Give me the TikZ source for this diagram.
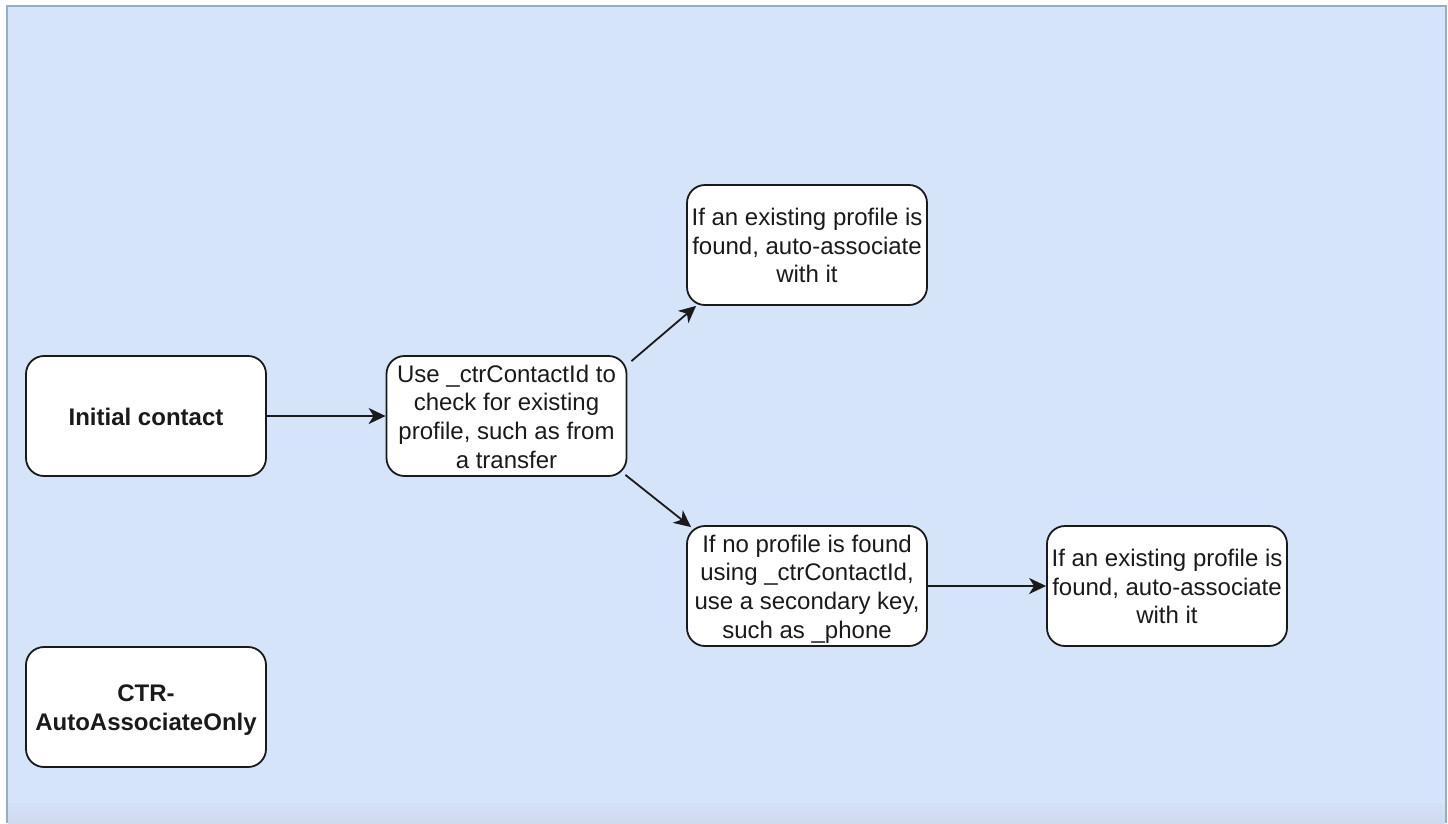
\documentclass[tikz,border=0pt]{standalone}
\usepackage{fontspec}
\setmainfont{Liberation Sans}
\usetikzlibrary{arrows.meta}
\definecolor{bgblue}{HTML}{D6E4FA}
\definecolor{framec}{HTML}{93AEC6}
\definecolor{stripa}{HTML}{D4E0F5}
\definecolor{stripb}{HTML}{CFDAEE}
\definecolor{ink}{HTML}{1A1A1A}
\newcommand\boxtxt[1]{\raisebox{-3.5pt}[\height][\depth]{\begin{tabular}{@{}c@{}}#1\end{tabular}}}
\begin{document}
\begin{tikzpicture}[x=1pt,y=-1pt,
  box/.style={draw=ink, line width=1.8pt, fill=white, rounded corners=18pt,
    minimum width=240pt, minimum height=120pt, inner sep=0pt, align=center,
    text=ink, font=\fontsize{24}{28.7}\selectfont},
  boldbox/.style={box, font=\fontsize{24}{28.7}\selectfont\bfseries},
  conn/.style={draw=ink, line width=1.8pt, -{Stealth[length=17pt,width=16pt,inset=5pt]}}]
\useasboundingbox (0,0) rectangle (1448,823);
\fill[white] (0,0) rectangle (1448,823);
\fill[bgblue] (7,6) rectangle (1446,823);
\shade[top color=stripa, bottom color=stripb] (8,803) rectangle (1445,823);
\draw[framec, line width=1.5pt] (7,823) -- (7,6) -- (1446,6) -- (1446,823);

\node[boldbox] (init) at (146,416) {\boxtxt{Initial contact}};
\node[boldbox] (ctr) at (146,707) {\boxtxt{CTR-\\AutoAssociateOnly}};
\node[box] (use) at (506.5,416) {\boxtxt{Use \_ctrContactId to\\check for existing\\profile, such as from\\a transfer}};
\node[box] (found1) at (807,245) {\boxtxt{If an existing profile is\\found, auto-associate\\with it}};
\node[box] (nofound) at (807,586) {\boxtxt{If no profile is found\\using \_ctrContactId,\\use a secondary key,\\such as \_phone}};
\node[box] (found2) at (1167,586) {\boxtxt{If an existing profile is\\found, auto-associate\\with it}};

\draw[conn] (init.east) -- (use.west);
\draw[conn] ([xshift=4pt,yshift=-6pt]use.north east) -- ([xshift=10pt]found1.south west);
\draw[conn] ([xshift=-2pt,yshift=2pt]use.south east) -- ([xshift=5pt,yshift=-2pt]nofound.north west);
\draw[conn] (nofound.east) -- (found2.west);
\end{tikzpicture}
\end{document}
